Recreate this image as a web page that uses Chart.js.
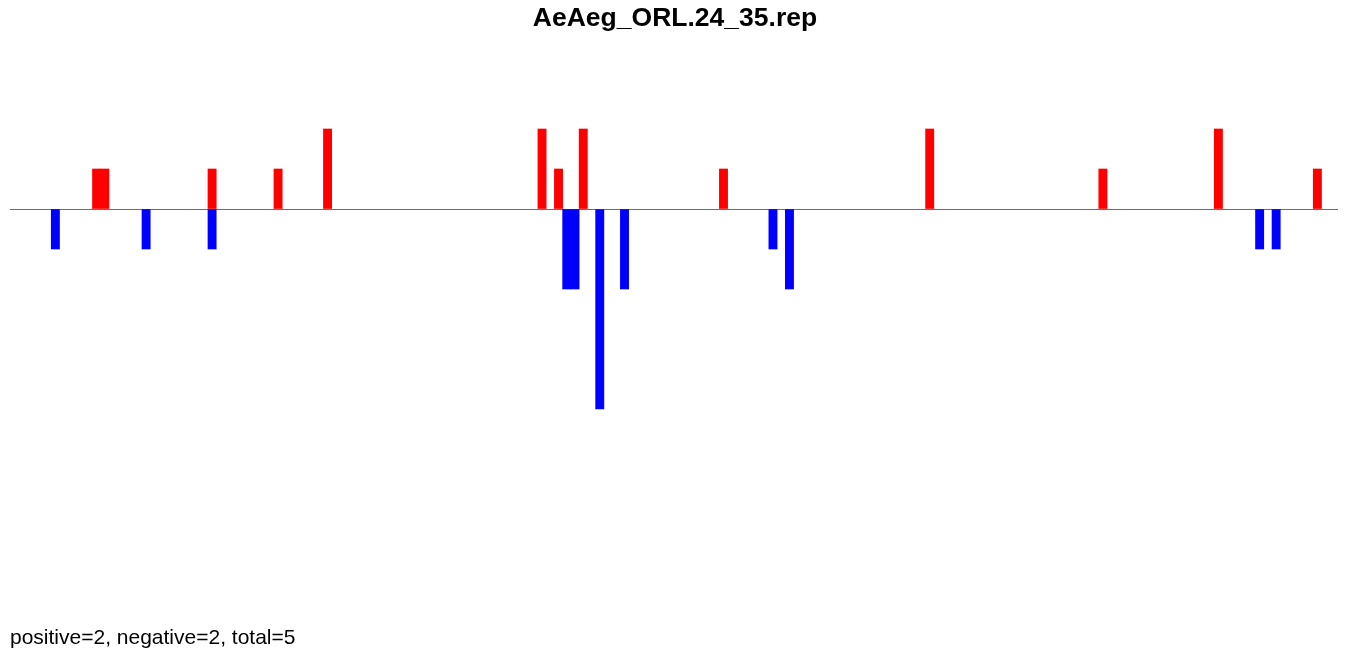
<!DOCTYPE html>
<html>
<head>
<meta charset="utf-8">
<script src="https://cdn.jsdelivr.net/npm/chart.js@4"></script>
<style>
  body { margin: 0; background: #fff; }
  #wrap { position: relative; width: 1350px; height: 655px; }
  #title { position: absolute; left: 0; top: 2px; width: 1350px; text-align: center;
           font: bold 26.5px "Liberation Sans", Arial, sans-serif; color: #000; }
  #footer { position: absolute; left: 10px; top: 625px;
            font: 21px "Liberation Sans", Arial, sans-serif; color: #000; }
  #chart { position: absolute; left: 0; top: 0; }
</style>
</head>
<body>
<div id="wrap">
  <canvas id="chart" width="1350" height="655"></canvas>
  <div id="title">AeAeg_ORL.24_35.rep</div>
  <div id="footer">positive=2, negative=2, total=5</div>
</div>
<script>
// 161 slots along the sequence, bars sit at these slot indices
var slotCount = 161;
var upPos = [10, 11, 24, 32, 38, 64, 66, 69, 86, 111, 132, 146, 158];
var upVal = [1, 1, 1, 1, 2, 2, 1, 2, 1, 2, 1, 2, 1];
var downPos = [5, 16, 24, 67, 68, 71, 74, 92, 94, 151, 153];
var downVal = [-1, -1, -1, -2, -2, -5, -2, -1, -2, -1, -1];
var yMin = -10;
var yMax = 4;

var labels = [];
var upData = [];
var downData = [];
for (var i = 0; i < slotCount; i++) {
  labels.push(i);
  upData.push(null);
  downData.push(null);
}
for (var i = 0; i < upPos.length; i++) upData[upPos[i]] = upVal[i];
for (var i = 0; i < downPos.length; i++) downData[downPos[i]] = downVal[i];

new Chart("chart", {
  type: "bar",
  data: {
    labels: labels,
    datasets: [{
      data: upData,
      backgroundColor: "#ff0000",
      barPercentage: 1,
      categoryPercentage: 1,
      grouped: false
    }, {
      data: downData,
      backgroundColor: "#0000ff",
      barPercentage: 1,
      categoryPercentage: 1,
      grouped: false
    }]
  },
  options: {
    responsive: false,
    animation: false,
    layout: { padding: { left: 10, right: 12, top: 49, bottom: 46 } },
    plugins: { legend: { display: false }, tooltip: { enabled: false } },
    scales: {
      x: {
        display: false,
        offset: true
      },
      y: {
        min: yMin,
        max: yMax,
        ticks: { display: false, stepSize: 1 },
        border: { display: false },
        grid: {
          drawTicks: false,
          color: function(ctx) { return ctx.tick && ctx.tick.value === 0 ? "#6e6e6e" : "rgba(0,0,0,0)"; },
          lineWidth: 1
        }
      }
    }
  }
});
</script>
</body>
</html>
